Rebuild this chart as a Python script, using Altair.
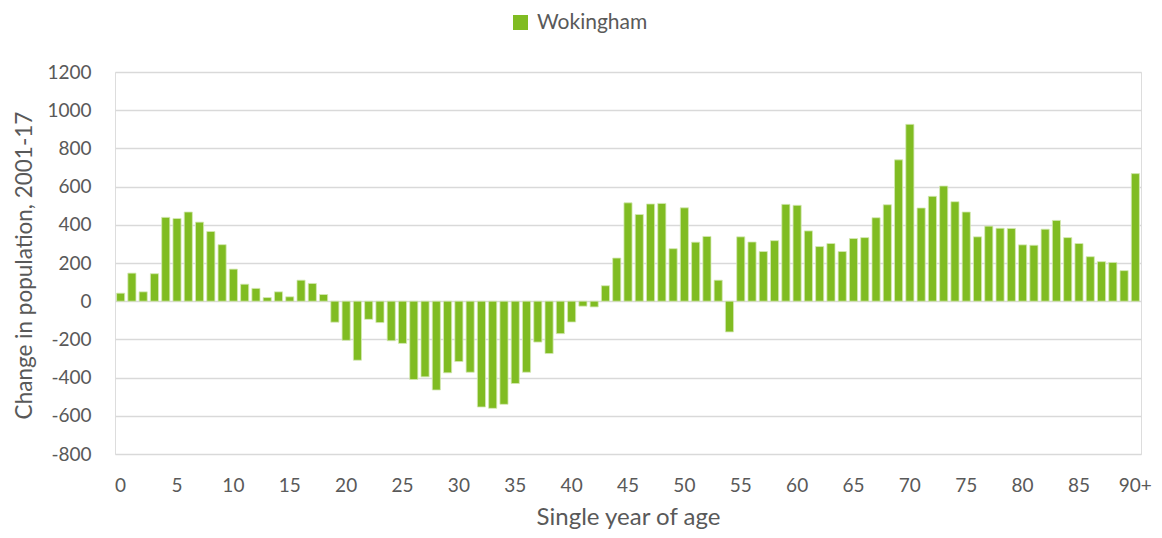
import altair as alt
import pandas as pd

ages = [str(i) for i in range(90)] + ["90+"]
values = [
    42, 147, 49, 144, 439, 433, 467, 414, 365, 296,
    168, 89, 67, 19, 49, 23, 110, 93, 35, -110,
    -205, -309, -95, -112, -207, -221, -410, -396, -465, -375,
    -316, -372, -554, -561, -540, -431, -372, -214, -274, -170,
    -109, -26, -30, 81, 226, 515, 454, 509, 512, 275,
    489, 309, 339, 110, -161, 337, 310, 260, 317, 507,
    502, 368, 286, 302, 260, 328, 333, 437, 505, 740,
    926, 488, 549, 603, 521, 467, 337, 393, 382, 381,
    295, 293, 377, 423, 333, 302, 233, 207, 203, 160,
    668,
]
series = ["Wokingham"] * len(ages)
tick_labels = [str(i) for i in range(0, 90, 5)] + ["90+"]
y_ticks = list(range(-800, 1201, 200))

df = pd.DataFrame({"age": ages, "change": values, "area": series})

FONT = "Lato"
TXT = "#595959"

chart = (
    alt.Chart(df)
    .mark_bar(stroke="#d4e8b4", strokeWidth=0.8)
    .encode(
        x=alt.X(
            "age:N",
            sort=ages,
            scale=alt.Scale(paddingInner=0.28, paddingOuter=0.14),
            axis=alt.Axis(
                values=tick_labels,
                labelAngle=0,
                ticks=False,
                domain=False,
                grid=False,
                labelBaseline="alphabetic",
                labelPadding=37,
                labelFontSize=19,
                labelColor=TXT,
                labelFont=FONT,
                title="Single year of age",
                titleFontSize=24,
                titleFontWeight="normal",
                titleColor=TXT,
                titleFont=FONT,
                titleY=70,
                titleBaseline="alphabetic",
            ),
        ),
        y=alt.Y(
            "change:Q",
            scale=alt.Scale(domain=[-800, 1200], nice=False),
            axis=alt.Axis(
                values=y_ticks,
                labelExpr="datum.value < 0 ? '-' + abs(datum.value) : '' + datum.value",
                ticks=False,
                domain=False,
                grid=True,
                gridColor="#d9d9d9",
                gridWidth=1.3,
                labelPadding=24,
                labelFontSize=19,
                labelColor=TXT,
                labelFont=FONT,
                title="Change in population, 2001-17",
                titleFontSize=22.5,
                titleFontWeight="normal",
                titleColor=TXT,
                titleFont=FONT,
                titleX=-84,
                titleY=193,
                titleAngle=-90,
                titleBaseline="alphabetic",
                titleAlign="center",
            ),
        ),
        color=alt.Color(
            "area:N",
            scale=alt.Scale(range=["#80bc22"]),
            legend=alt.Legend(
                title=None,
                orient="none",
                legendX=395,
                legendY=-60,
                direction="horizontal",
                symbolType="square",
                symbolSize=225,
                symbolStrokeWidth=0,
                labelFontSize=21,
                labelColor=TXT,
                labelFont=FONT,
                labelOffset=6,
            ),
        ),
    )
    .properties(
        width=1026,
        height=382,
        autosize=alt.AutoSizeParams(type="none"),
        padding={"left": 107, "top": 64, "right": 13, "bottom": 76},
    )
    .configure_view(stroke=None)
    .configure(font=FONT)
)

chart.save("out.html", embed_options={"renderer": "svg", "actions": False})
